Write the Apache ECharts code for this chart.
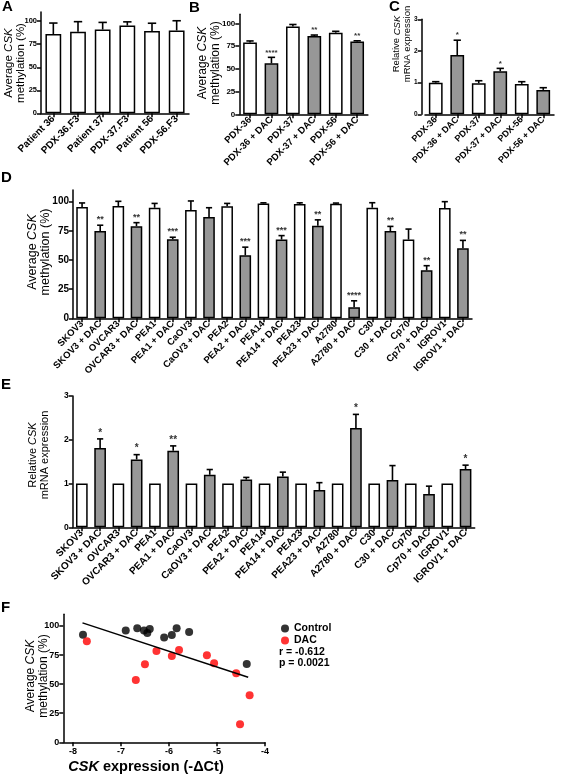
<!DOCTYPE html>
<html><head><meta charset="utf-8">
<script src="https://cdn.jsdelivr.net/npm/echarts@6/dist/echarts.min.js"></script>
<style>html,body{margin:0;padding:0;background:#fff}#c{width:567px;height:775px}</style>
</head><body><div id="c"></div>
<script>
// ---------- DATA ----------
const catA = ['Patient 36','PDX-36.F3','Patient 37','PDX-37.F3','Patient 56','PDX-56.F3'];
const valA = [86, 88.5, 91, 95.3, 89.5, 90];
const errA = [12, 11, 7.7, 4, 8.3, 10.5];

const catB = ['PDX-36','PDX-36 + DAC','PDX-37','PDX-37 + DAC','PDX-56','PDX-56 + DAC'];
const valB = [79, 56, 96.5, 86, 89.7, 80];
const errB = [1.6, 6.6, 2.2, 1.1, 1.5, 0.8];
const starsB = ['','****','','**','','**'];

const catC = ['PDX-36','PDX-36 + DAC','PDX-37','PDX-37 + DAC','PDX-56','PDX-56 + DAC'];
const valC = [1.0, 1.87, 0.98, 1.36, 0.96, 0.77];
const errC = [0.03, 0.47, 0.08, 0.09, 0.07, 0.07];
const starsC = ['','*','','*','',''];

const catD = ['SKOV3','SKOV3 + DAC','OVCAR3','OVCAR3 + DAC','PEA1','PEA1 + DAC','CaOV3','CaOV3 + DAC','PEA2','PEA2 + DAC','PEA14','PEA14 + DAC','PEA23','PEA23 + DAC','A2780','A2780 + DAC','C30','C30 + DAC','Cp70','Cp70 + DAC','IGROV1','IGROV1 + DAC'];
const valD = [95.5,74.8,96.3,79,94.8,67.8,92.8,86.8,96,54,98.5,67.5,98,79.4,98.3,9.5,94.8,74.8,67.5,41.1,94.5,60];
const errD = [3.4,5,4,3,3.7,1.7,7.8,8,2.5,7,0.5,3.4,1,5,0.5,5.5,4.3,4,9,4,5.5,6.8];
const starsD = ['','**','','**','','***','','','','***','','***','','**','','****','','**','','**','','**'];

const catE = catD;
const valE = [1,1.81,1,1.55,1,1.75,1,1.2,1,1.09,1,1.16,1,0.85,1,2.27,1,1.08,1,0.76,1,1.33];
const errE = [0,0.21,0,0.11,0,0.11,0,0.12,0,0.05,0,0.1,0,0.17,0,0.31,0,0.33,0,0.18,0,0.09];
const starsE = ['','*','','*','','**','','','','','','','','','','*','','','','','','*'];

const ctrlX = [-7.79,-6.90,-6.66,-6.52,-6.45,-6.40,-6.10,-5.94,-5.84,-5.58,-4.38];
const ctrlY = [92.5,96,98,96,94,97.4,90,92.3,98,94.8,67.3];
const dacX = [-7.71,-6.69,-6.50,-6.26,-5.94,-5.79,-5.21,-5.06,-4.60,-4.52,-4.32];
const dacY = [86.8,53.6,67,78.5,74.2,79.4,74.8,67.9,59.3,15.5,40.4];
const regX = [-7.80,-4.35];
const regY = [102.6,55.9];

const methTicks = [0,25,50,75,100];
const exprTicks = [0,1,2,3];
const fTicksX = [-8,-7,-6,-5,-4];

// ---------- STYLE ----------
const FF = '"Liberation Sans", Arial, sans-serif';
const GRAY = '#979797';
const chart = echarts.init(document.getElementById('c'), null, {renderer:'canvas', width:567, height:775});

function xCat(i, data, fs) {
  return {type:'category', gridIndex:i, data:data, boundaryGap:true,
    axisLine:{show:true, lineStyle:{color:'#000', width:1.5}},
    axisTick:{show:true, alignWithLabel:true, length:4, lineStyle:{color:'#000', width:1.5}},
    axisLabel:{interval:0, rotate:45, fontSize:fs, fontWeight:'bold', fontFamily:FF, color:'#000', margin:4},
    splitLine:{show:false}};
}
function yVal(i, max, ticks, fs, offset) {
  return {type:'value', gridIndex:i, min:0, max:max, offset:offset||0,
    axisLine:{show:true, lineStyle:{color:'#000', width:1.5}},
    axisTick:{show:true, length:4, customValues:ticks, lineStyle:{color:'#000', width:1.5}},
    axisLabel:{customValues:ticks, fontSize:fs, fontWeight:'bold', fontFamily:FF, color:'#000', margin:4},
    splitLine:{show:false}};
}
function barSeries(i, vals, alt) {
  return {type:'bar', xAxisIndex:i, yAxisIndex:i, data:vals, barWidth:'64%', silent:true,
    itemStyle:{color:function(p){return (alt && p.dataIndex % 2) ? GRAY : '#fff';}, borderColor:'#000', borderWidth:1.5}};
}
function errSeries(i, vals, errs, stars, fs) {
  return {type:'custom', xAxisIndex:i, yAxisIndex:i, silent:true, z:5,
    data: vals.map(function(v,k){return [k, v, errs[k]];}),
    renderItem: function(params, api) {
      const k = api.value(0), v = api.value(1), e = api.value(2);
      const base = api.coord([k, v]);
      const top = api.coord([k, v + e]);
      const hw = api.size([1, 0])[0] * 0.17;
      const ch = [];
      if (e > 0) {
        ch.push({type:'line', shape:{x1:base[0], y1:base[1], x2:top[0], y2:top[1]}, style:{stroke:'#000', lineWidth:1.6}});
        ch.push({type:'line', shape:{x1:top[0]-hw, y1:top[1], x2:top[0]+hw, y2:top[1]}, style:{stroke:'#000', lineWidth:1.6}});
      }
      const s = stars ? stars[params.dataIndex] : '';
      if (s) {
        ch.push({type:'text', x:top[0], y:top[1]-1, style:{text:s, textAlign:'center', textVerticalAlign:'bottom', fontSize:fs, fontWeight:'bold', fontFamily:FF, fill:'#333'}});
      }
      return {type:'group', children:ch};
    }};
}
function vTitle(x, y, l1, l2, fs) {
  return {type:'text', x:x, y:y, rotation:Math.PI/2, z:10,
    style:{text:l1 + '\n' + l2, textAlign:'center', textVerticalAlign:'middle', fontSize:fs, fontFamily:FF, fill:'#000', lineHeight:fs*1.08,
      rich:{i:{fontStyle:'italic', fontSize:fs, fontFamily:FF, fill:'#000', lineHeight:fs*1.08}}}};
}
function letter(t, x, y) {
  return {type:'text', x:x, y:y, z:10, style:{text:t, fontSize:15, fontWeight:'bold', fontFamily:FF, fill:'#000', textVerticalAlign:'top'}};
}

const option = {
  animation:false,
  backgroundColor:'#fff',
  grid:[
    {left:41, top:12, width:148, height:101.3, outerBoundsMode:'none'},
    {left:239.3, top:14.2, width:128.6, height:100.1, outerBoundsMode:'none'},
    {left:425, top:19.3, width:129, height:95, outerBoundsMode:'none'},
    {left:73, top:190, width:399, height:128.3, outerBoundsMode:'none'},
    {left:72.7, top:396, width:402, height:131.3, outerBoundsMode:'none'},
    {left:63.3, top:614.3, width:201.7, height:128, outerBoundsMode:'none'}
  ],
  xAxis:[
    xCat(0, catA, 10), xCat(1, catB, 9.5), xCat(2, catC, 9), xCat(3, catD, 9.5), xCat(4, catE, 10),
    {type:'value', gridIndex:5, min:-8.2, max:-4,
      axisLine:{show:true, lineStyle:{color:'#000', width:1.5}},
      axisTick:{show:true, length:4, customValues:fTicksX, lineStyle:{color:'#000', width:1.5}},
      axisLabel:{customValues:fTicksX, fontSize:9, fontWeight:'bold', fontFamily:FF, color:'#000', margin:5},
      splitLine:{show:false}}
  ],
  yAxis:[
    yVal(0, 110, methTicks, 7.5, 0), yVal(1, 110, methTicks, 8, 0), yVal(2, 3, exprTicks, 6.5, 3.3),
    yVal(3, 110, methTicks, 10, 0), yVal(4, 3, exprTicks, 8.5, 0), yVal(5, 110, methTicks, 9, 0)
  ],
  legend:{data:['Control','DAC'], orient:'vertical', left:276, top:618, itemWidth:8, itemHeight:8, itemGap:1, icon:'circle', selectedMode:false,
    textStyle:{fontSize:10.5, fontWeight:'bold', fontFamily:FF, color:'#000', lineHeight:10}},
  series:[
    barSeries(0, valA, false), errSeries(0, valA, errA, null, 8),
    barSeries(1, valB, true), errSeries(1, valB, errB, starsB, 8),
    barSeries(2, valC, true), errSeries(2, valC, errC, starsC, 8),
    barSeries(3, valD, true), errSeries(3, valD, errD, starsD, 9),
    barSeries(4, valE, true), errSeries(4, valE, errE, starsE, 10),
    {type:'line', name:'fit', xAxisIndex:5, yAxisIndex:5, data:regX.map(function(x,k){return [x, regY[k]];}), symbol:'none', silent:true,
      lineStyle:{color:'#000', width:1.5}},
    {type:'scatter', name:'Control', xAxisIndex:5, yAxisIndex:5, data:ctrlX.map(function(x,k){return [x, ctrlY[k]];}), symbolSize:8, itemStyle:{color:'#000'}, silent:true},
    {type:'scatter', name:'DAC', xAxisIndex:5, yAxisIndex:5, data:dacX.map(function(x,k){return [x, dacY[k]];}), symbolSize:8, itemStyle:{color:'#ff0000'}, silent:true}
  ],
  graphic:[
    letter('A', 2, -1), letter('B', 189, 0), letter('C', 389, -1), letter('D', 1, 170), letter('E', 1, 377), letter('F', 1, 600),
    vTitle(15, 63, 'Average {i|CSK}', 'methylation (%)', 11.5),
    vTitle(209.5, 63, 'Average {i|CSK}', 'methylation (%)', 12),
    vTitle(402, 44, 'Relative {i|CSK}', 'mRNA expression', 9.5),
    vTitle(39, 252, 'Average {i|CSK}', 'methylation (%)', 12.5),
    vTitle(39, 455, 'Relative {i|CSK}', 'mRNA expression', 11),
    vTitle(37.5, 676, 'Average {i|CSK}', 'methylation (%)', 12),
    {type:'text', x:146, y:767, z:10, style:{text:'{i|CSK} expression (-ΔCt)', textAlign:'center', textVerticalAlign:'middle', fontSize:14.5, fontWeight:'bold', fontFamily:FF, fill:'#000',
      rich:{i:{fontStyle:'italic', fontWeight:'bold', fontSize:14.5, fontFamily:FF, fill:'#000'}}}},
    {type:'text', x:279, y:652, z:10, style:{text:'r = -0.612', textVerticalAlign:'middle', fontSize:10.5, fontWeight:'bold', fontFamily:FF, fill:'#000'}},
    {type:'text', x:279, y:663, z:10, style:{text:'p = 0.0021', textVerticalAlign:'middle', fontSize:10.5, fontWeight:'bold', fontFamily:FF, fill:'#000'}}
  ]
};
chart.setOption(option);
</script>
</body></html>
